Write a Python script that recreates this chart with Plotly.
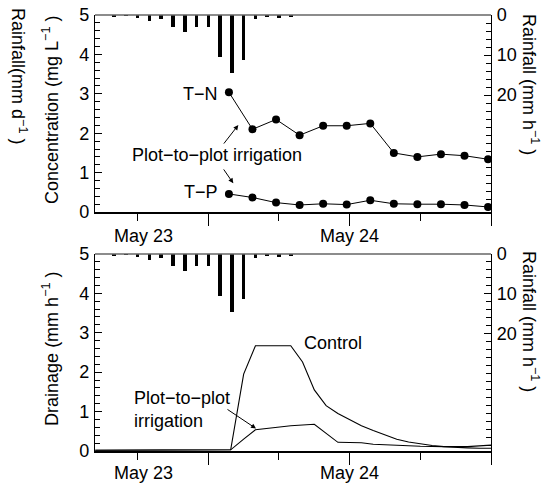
import plotly.graph_objects as go

# ---------------- data ----------------
rain_hours = [4, 5, 6, 7, 8, 9, 10, 11, 12, 13, 14, 15, 16, 17, 18, 19]
rain_mm_h = [0.4, 0.25, 0.7, 1.4, 1.0, 2.9, 4.2, 2.9, 2.9, 10.4, 14.6, 11.3, 1.0, 0.6, 0.8, 0.5]

sample_hours = [13.75, 15.75, 17.75, 19.75, 21.75, 23.75, 25.75, 27.75, 29.75, 31.75, 33.75, 35.75]
tn_conc = [3.04, 2.10, 2.35, 1.95, 2.19, 2.19, 2.25, 1.50, 1.40, 1.47, 1.43, 1.34]
tp_conc = [0.46, 0.37, 0.24, 0.18, 0.21, 0.19, 0.30, 0.21, 0.20, 0.20, 0.18, 0.13]

control_hours = [2.4, 13.9, 15, 16, 19, 20, 21, 22, 23, 24, 25, 26, 27, 28, 29, 30, 31, 32, 33, 34, 35, 36]
control_drain = [0.02, 0.03, 1.95, 2.67, 2.67, 2.26, 1.55, 1.15, 0.95, 0.79, 0.64, 0.52, 0.40, 0.30,
                 0.23, 0.18, 0.14, 0.11, 0.09, 0.08, 0.07, 0.07]
p2p_hours = [2.4, 13.9, 15, 16, 19, 21, 23, 24, 25, 26, 28, 30, 32, 34, 36]
p2p_drain = [0.02, 0.03, 0.30, 0.54, 0.64, 0.68, 0.22, 0.22, 0.21, 0.17, 0.14, 0.12, 0.11, 0.11, 0.15]

day_labels = ["May 23", "May 24"]
day_label_hours = [6.5, 24.0]
x_range = [2.38, 36.0]

FONT = "Arial, Liberation Sans, sans-serif"
FS = 18

fig = go.Figure()

# rainfall bars (both panels)
for yax in ["y2", "y4"]:
    xax = "x" if yax == "y2" else "x2"
    fig.add_trace(go.Bar(x=rain_hours, y=rain_mm_h, base=0, width=0.3,
                         marker=dict(color="black", line=dict(width=0)),
                         xaxis=xax, yaxis=yax, showlegend=False))

# concentrations
for vals in [tn_conc, tp_conc]:
    fig.add_trace(go.Scatter(x=sample_hours, y=vals, mode="lines+markers",
                             line=dict(color="black", width=1),
                             marker=dict(color="black", size=8),
                             xaxis="x", yaxis="y", showlegend=False))

# drainage
fig.add_trace(go.Scatter(x=control_hours, y=control_drain, mode="lines",
                         line=dict(color="black", width=1.1), xaxis="x2", yaxis="y3",
                         showlegend=False))
fig.add_trace(go.Scatter(x=p2p_hours, y=p2p_drain, mode="lines",
                         line=dict(color="black", width=1.1), xaxis="x2", yaxis="y3",
                         showlegend=False))

top_dom = [0.548, 1.0]
bot_dom = [0.0, 0.452]

xcommon = dict(range=x_range, showgrid=False, zeroline=False, showline=True, automargin=False,
               linecolor="black", linewidth=1.5, ticks="outside", tick0=0, dtick=12,
               ticklen=12, tickwidth=1, tickcolor="black", showticklabels=False,
               minor=dict(ticks="outside", dtick=6, tick0=0, ticklen=7, tickcolor="black"))
ycommon = dict(range=[0, 5], showgrid=False, zeroline=False, showline=True, automargin=False,
               linecolor="black", linewidth=1.2, ticks="inside", dtick=1, ticklen=7,
               tickcolor="black", tickfont=dict(size=FS, color="black"), ticklabelstandoff=1,
               minor=dict(ticks="inside", dtick=0.2, ticklen=5, tickcolor="black"))
rcommon = dict(range=[49.25, 0], side="right", showgrid=False, zeroline=False, automargin=False,
               showline=True, linecolor="black", linewidth=1.2, ticks="inside",
               tickmode="array", tickvals=[0, 10, 20], ticklen=7, tickcolor="black",
               tickfont=dict(size=FS, color="black"), ticklabelstandoff=1,
               minor=dict(ticks="inside", tickmode="array",
                          tickvals=list(range(0, 50, 2)), ticklen=5, tickcolor="black"))

fig.update_layout(
    width=545, height=483,
    margin=dict(l=95, r=54, t=15, b=32, autoexpand=False),
    paper_bgcolor="white", plot_bgcolor="white",
    font=dict(family=FONT, size=FS, color="black"),
    bargap=0,
    xaxis=dict(xcommon, anchor="y"),
    xaxis2=dict(xcommon, anchor="y3"),
    yaxis=dict(ycommon, domain=top_dom, anchor="x"),
    yaxis2=dict(rcommon, overlaying="y", anchor="x"),
    yaxis3=dict(ycommon, domain=bot_dom, anchor="x2"),
    yaxis4=dict(rcommon, overlaying="y3", anchor="x2"),
)

# gray top border of each panel
for yd in ["y domain", "y3 domain"]:
    xd = "x domain" if yd == "y domain" else "x2 domain"
    fig.add_shape(type="line", xref=xd, yref=yd, x0=0, x1=1, y0=1, y1=1,
                  line=dict(color="#666666", width=1.5))

ann = []
# day labels
for lab, h in zip(day_labels, day_label_hours):
    ann.append(dict(x=h, y=-0.122, xref="x", yref="y domain", text=lab, showarrow=False,
                    font=dict(size=FS), xanchor="center", yanchor="middle"))
    ann.append(dict(x=h, y=-0.112, xref="x2", yref="y3 domain", text=lab, showarrow=False,
                    font=dict(size=FS), xanchor="center", yanchor="middle"))

# axis titles
tt = dict(showarrow=False, font=dict(size=FS), xanchor="center", yanchor="middle")
ann += [
    dict(tt, x=0, xref="paper", xshift=-44, y=0.518, yref="y domain", textangle=-90,
         text="Concentration (mg L<sup>−1</sup> )"),
    dict(tt, x=0, xref="paper", xshift=-44, y=0.518, yref="y3 domain", textangle=-90,
         text="Drainage (mm h<sup>−1</sup> )"),
    dict(tt, x=1, xref="paper", xshift=39, y=0.65, yref="y domain", textangle=90,
         text="Rainfall (mm h<sup>−1</sup> )"),
    dict(tt, x=1, xref="paper", xshift=39, y=0.66, yref="y3 domain", textangle=90,
         text="Rainfall (mm h<sup>−1</sup> )"),
    dict(tt, x=0, xref="paper", xshift=-76, y=0.69, yref="y domain", textangle=90,
         text="Rainfall(mm d<sup>−1</sup> )"),
]

# in-plot labels, top panel
ann += [
    dict(x=13.0, y=3.0, xref="x", yref="y", text="T−N", showarrow=False, xanchor="right",
         font=dict(size=FS)),
    dict(x=13.0, y=0.51, xref="x", yref="y", text="T−P", showarrow=False, xanchor="right",
         font=dict(size=FS)),
    dict(x=12.74, y=1.45, xref="x", yref="y", text="Plot−to−plot irrigation",
         showarrow=False, font=dict(size=FS)),
    dict(x=14.55, y=2.21, ax=13.22, ay=1.70, xref="x", yref="y", axref="x", ayref="y",
         text="", showarrow=True, arrowhead=2, arrowsize=1, arrowwidth=1, arrowcolor="black"),
    dict(x=14.12, y=0.73, ax=13.22, ay=1.12, xref="x", yref="y", axref="x", ayref="y",
         text="", showarrow=True, arrowhead=2, arrowsize=1, arrowwidth=1, arrowcolor="black"),
]
# bottom panel labels
ann += [
    dict(x=5.5, y=1.05, xref="x2", yref="y3", text="Plot−to−plot<br>irrigation",
         showarrow=False, xanchor="left", align="left", font=dict(size=FS)),
    dict(x=19.95, y=2.74, xref="x2", yref="y3", text="Control", showarrow=False,
         xanchor="left", font=dict(size=FS)),
    dict(x=16.05, y=0.57, ax=13.5, ay=1.08, xref="x2", yref="y3", axref="x2", ayref="y3",
         text="", showarrow=True, arrowhead=2, arrowsize=1, arrowwidth=1, arrowcolor="black"),
]
fig.update_layout(annotations=ann)

fig.write_html("out.html", config={"displayModeBar": False},
               post_script="document.body.style.margin='0';")
